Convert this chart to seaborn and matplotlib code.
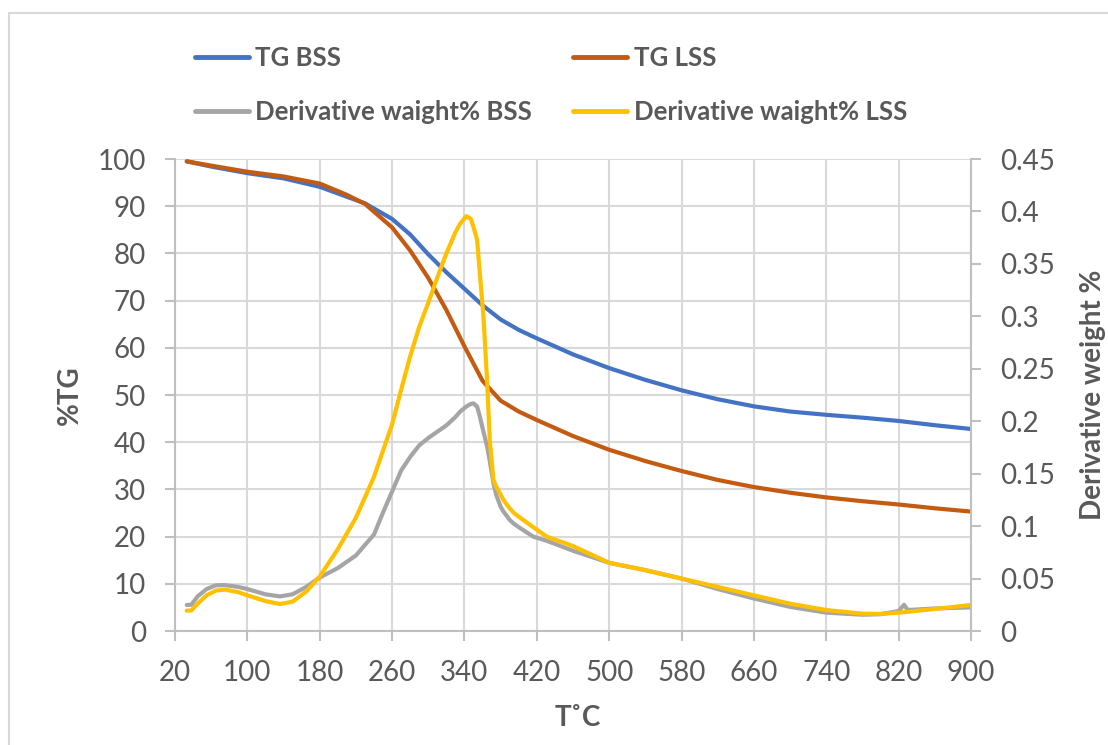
import numpy as np
import pandas as pd
import matplotlib
matplotlib.use("Agg")
import matplotlib.pyplot as plt
import seaborn as sns
from matplotlib.lines import Line2D
from matplotlib.patches import Rectangle

# ---------------- data ----------------
temp_tg = [33, 60, 100, 140, 180, 210, 230, 260, 280, 300, 320, 340, 360, 380,
           400, 420, 460, 500, 540, 580, 620, 660, 700, 740, 780, 820, 860, 900]
tg_bss = [99.5, 98.4, 97.0, 95.9, 94.1, 92.0, 90.6, 87.3, 84.0, 79.8, 76.0, 72.5,
          69.0, 66.0, 63.8, 62.0, 58.6, 55.7, 53.2, 51.0, 49.1, 47.6, 46.5, 45.8,
          45.2, 44.5, 43.6, 42.8]
tg_lss = [99.5, 98.6, 97.3, 96.3, 94.8, 92.4, 90.5, 85.5, 80.6, 74.8, 68.0, 60.3,
          53.0, 48.8, 46.5, 44.7, 41.3, 38.4, 36.0, 33.9, 32.0, 30.5, 29.3, 28.3,
          27.5, 26.8, 26.0, 25.3]

temp_d = [33, 38, 45, 55, 65, 75, 90, 100, 120, 136, 150, 165, 180, 200, 220, 240,
          250, 260, 270, 280, 290, 300, 310, 320, 330, 335, 342, 347, 350, 354,
          357, 361, 365, 368, 372, 375, 380, 383, 390, 394, 400, 416, 431, 460, 500,
          540, 580, 620, 660, 700, 740, 780, 800, 820, 826, 830, 860, 900]
deriv_bss = [0.0248, 0.0250, 0.0330, 0.0400, 0.0435, 0.0438, 0.0420, 0.0400, 0.0350,
             0.0330, 0.0350, 0.0420, 0.0510, 0.0600, 0.0720, 0.0920, 0.1130, 0.1330,
             0.1530, 0.1660, 0.1770, 0.1840, 0.1900, 0.1960, 0.2040, 0.2090, 0.2140,
             0.2165, 0.2170, 0.2140, 0.2044, 0.1900, 0.1760, 0.1620, 0.1410, 0.1300,
             0.1185, 0.1140, 0.1060, 0.1027, 0.0990, 0.0900, 0.0860, 0.0765, 0.0650,
             0.0580, 0.0500, 0.0400, 0.0310, 0.0230, 0.0175, 0.0155, 0.0160, 0.0190,
             0.0250, 0.0200, 0.0215, 0.0225]
deriv_lss = [0.0194, 0.0195, 0.0260, 0.0340, 0.0385, 0.0395, 0.0370, 0.0340, 0.0285,
             0.0257, 0.0280, 0.0375, 0.0520, 0.0780, 0.1080, 0.1470, 0.1720, 0.1970,
             0.2300, 0.2620, 0.2900, 0.3130, 0.3370, 0.3600, 0.3800, 0.3880, 0.3955,
             0.3930, 0.3850, 0.3730, 0.3410, 0.3000, 0.2390, 0.1820, 0.1440, 0.1380,
             0.1300, 0.1250, 0.1170, 0.1130, 0.1090, 0.0990, 0.0900, 0.0810, 0.0650,
             0.0580, 0.0500, 0.0420, 0.0340, 0.0260, 0.0200, 0.0165, 0.0163, 0.0175,
             0.0180, 0.0183, 0.0210, 0.0248]

x_ticks = list(range(20, 901, 80))
left_ticks = list(range(0, 101, 10))
right_ticks = [0, 0.05, 0.1, 0.15, 0.2, 0.25, 0.3, 0.35, 0.4, 0.45]
right_tick_labels = ["0", "0.05", "0.1", "0.15", "0.2", "0.25", "0.3", "0.35", "0.4", "0.45"]

labels = ["TG BSS", "TG LSS", "Derivative waight% BSS", "Derivative waight% LSS"]
colors = ["#4472C4", "#C55A11", "#A5A5A5", "#FFC000"]

# ---------------- style ----------------
sns.set_theme(style="white")
plt.rcParams['font.family'] = ['Lato', 'DejaVu Sans']
TXT = "#595959"
GRID = "#d9d9d9"
AXC = "#bfbfbf"

W, H = 1108, 745
fig = plt.figure(figsize=(W / 100, H / 100), dpi=100)
fig.patch.set_facecolor("white")
ax = fig.add_axes([175 / W, 114 / H, 796 / W, 472 / H])
ax2 = ax.twinx()

df_tg = pd.DataFrame({"T": temp_tg, "bss": tg_bss, "lss": tg_lss})
df_d = pd.DataFrame({"T": temp_d, "bss": deriv_bss, "lss": deriv_lss})

lw = 3.0
sns.lineplot(data=df_tg, x="T", y="bss", ax=ax, color=colors[0], lw=lw, legend=False)
sns.lineplot(data=df_tg, x="T", y="lss", ax=ax, color=colors[1], lw=lw, legend=False)
sns.lineplot(data=df_d, x="T", y="bss", ax=ax2, color=colors[2], lw=lw, legend=False)
sns.lineplot(data=df_d, x="T", y="lss", ax=ax2, color=colors[3], lw=lw, legend=False)

for a in (ax, ax2):
    a.set_xlim(20, 900)
    a.set_xlabel("")
    a.set_ylabel("")
    a.set_facecolor("none")
ax.set_ylim(0, 100)
ax2.set_ylim(0, 0.45)

ax.set_xticks(x_ticks)
ax.set_xticklabels([str(v) for v in x_ticks])
ax.set_yticks(left_ticks)
ax.set_yticklabels([str(v) for v in left_ticks])
ax2.set_yticks(right_ticks)
ax2.set_yticklabels(right_tick_labels)

ax.grid(True, color=GRID, lw=1.5)
ax.set_axisbelow(True)
ax2.grid(False)

for a in (ax, ax2):
    for s in a.spines.values():
        s.set_visible(False)
ax.spines["left"].set_visible(True)
ax.spines["bottom"].set_visible(True)
ax2.spines["right"].set_visible(True)
for s in (ax.spines["left"], ax.spines["bottom"], ax2.spines["right"]):
    s.set_color(AXC)
    s.set_linewidth(1.5)

ax.tick_params(axis="x", direction="out", length=7, width=1.5, color=AXC,
               labelsize=20, labelcolor=TXT, pad=14, bottom=True)
ax.tick_params(axis="y", direction="out", length=7, width=1.5, color=AXC,
               labelsize=20, labelcolor=TXT, pad=14, left=True)
ax2.tick_params(axis="y", direction="out", length=7, width=1.5, color=AXC,
                labelsize=20, labelcolor=TXT, pad=14, right=True)

fig.text(578 / W, 1 - 718 / H, "T˚C", ha="center", va="center",
         fontsize=20, fontweight="bold", color=TXT)
fig.text(70 / W, 1 - 395 / H, "%TG", ha="center", va="center", rotation=90,
         fontsize=20, fontweight="bold", color=TXT)
fig.text(1093 / W, 1 - 395 / H, "Derivative weight %", ha="center", va="center",
         rotation=90, fontsize=20, fontweight="bold", color=TXT)

# legend: column 1 = BSS entries, column 2 = LSS entries
order = [0, 2, 1, 3]
handles = [Line2D([], [], color=colors[i], lw=3.5) for i in order]
leg = fig.legend(handles, [labels[i] for i in order], ncol=2, frameon=False,
                 loc="upper left", bbox_to_anchor=(195 / W, 1 - 46 / H),
                 borderpad=0, borderaxespad=0, handlelength=2.1,
                 handletextpad=0.25, columnspacing=1.6, labelspacing=1.16,
                 prop={"size": 18.5, "weight": "bold", "family": ["Lato", "DejaVu Sans"]})
for t in leg.get_texts():
    t.set_color(TXT)

fig.add_artist(Rectangle((9 / W, -0.05), 1.2, (H - 13) / H + 0.05,
                         transform=fig.transFigure, fill=False,
                         edgecolor=GRID, lw=1.5))

fig.savefig("out.png", dpi=100)
